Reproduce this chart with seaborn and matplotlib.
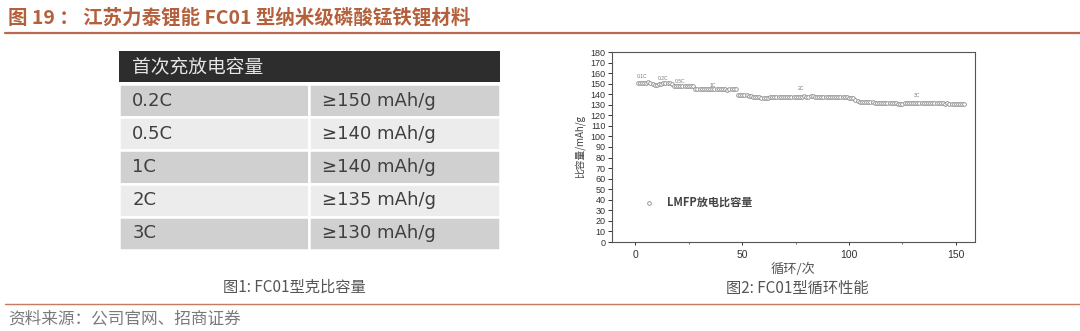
import numpy as np
import pandas as pd
import matplotlib
matplotlib.use("Agg")
import matplotlib.pyplot as plt
import seaborn as sns

# ---------------- data ----------------
title = "图 19 ： 江苏力泰锂能 FC01 型纳米级磷酸锰铁锂材料"
source = "资料来源：公司官网、招商证券"

table_header = "首次充放电容量"
table_rates = ["0.2C", "0.5C", "1C", "2C", "3C"]
table_caps = ["≥150 mAh/g", "≥140 mAh/g", "≥140 mAh/g", "≥135 mAh/g", "≥130 mAh/g"]
caption1 = "图1: FC01型克比容量"
caption2 = "图2: FC01型循环性能"

cap_01C = [150.3, 150.5, 150.7, 150.9, 151.1, 151.2, 151.0, 149.4]
cap_02C = [149.0, 149.2, 149.8, 150.0, 150.2, 150.3, 150.4, 150.3, 150.1]
cap_05C = [148.0, 147.7, 147.5, 147.4, 147.5, 147.7, 147.9, 148.1, 148.0, 147.8]
cap_1C = [145.1, 144.8, 144.6, 144.5, 144.5, 144.7, 144.9, 145.1, 145.3, 145.4,
          145.3, 145.0, 144.8, 144.6, 144.5, 144.4, 144.5, 144.6, 144.7, 144.6]
cap_2C = [139.4, 139.2, 139.1, 139.0, 138.9, 138.6, 138.2, 137.7,
          137.3, 137.0, 136.9, 136.8, 136.8, 136.7, 136.8, 136.9, 136.9, 137.0,
          137.0, 137.1, 137.1, 137.2, 137.3, 137.3, 137.4, 137.5, 137.5, 137.6,
          137.4, 137.6, 137.8, 137.9, 137.8, 137.7, 137.9, 138.0, 137.8, 137.7,
          137.6, 137.5, 137.5, 137.4, 137.4,
          137.3, 137.3, 137.2, 137.2, 137.1, 137.1, 137.0, 137.0, 136.9, 136.8,
          136.6, 136.2, 135.0, 133.5]
cap_3C = [132.8, 132.5, 132.3, 132.5, 132.8, 133.0, 132.6, 132.0, 131.7, 131.5,
          131.4, 131.3, 131.4, 131.5, 131.6, 131.5, 131.4, 131.3, 131.2, 131.1,
          131.2, 131.3, 131.4, 131.5, 131.6, 131.7, 131.6, 131.5, 131.6, 131.7,
          131.8, 131.7, 131.6, 131.5, 131.6, 131.7, 131.6, 131.5, 131.4, 131.3,
          131.2, 131.3, 131.2, 131.1, 131.0, 131.0, 130.9, 130.9, 130.8, 130.7]

rate_labels = ["0.1C", "0.2C", "0.5C", "1C", "2C", "3C"]
rate_label_x = [3, 12.7, 21, 36, 77.6, 131.6]
rate_label_y = [157, 154.7, 151.6, 148.7, 145, 138.7]

series_label = "LMFP放电比容量"
y_ticks = list(range(0, 181, 10))
x_ticks = [0, 50, 100, 150]

# ---------------- style ----------------
sns.set_theme(style="white")
plt.rcParams["font.family"] = ["Liberation Sans", "Noto Sans CJK SC", "DejaVu Sans"]
CJK = ["Noto Sans CJK SC", "DejaVu Sans"]

W, H = 1080, 331
fig = plt.figure(figsize=(W / 100, H / 100), dpi=100)
fig.patch.set_facecolor("white")

def fx(px):
    return px / W

def fy(py):
    return 1 - py / H

# title and rules
title_col = "#b4603c"
fig.text(fx(8), fy(18), title, family=CJK, fontsize=14, fontweight="bold",
         color=title_col, va="center", ha="left")
fig.add_artist(plt.Line2D([fx(5), fx(1080)], [fy(33), fy(33)], color="#b8694f", lw=1.6))
fig.add_artist(plt.Line2D([fx(5), fx(1080)], [fy(304), fy(304)], color="#c77a60", lw=1.0))
fig.text(fx(8), fy(319), source, family=CJK, fontsize=12, color="#7a7a7a",
         va="center", ha="left")

# ---------------- table (left) ----------------
tx0, tx1 = 119, 500
hdr_top, hdr_bot = 51, 82
row_bot = 250
tab_ax = fig.add_axes([fx(tx0), fy(row_bot), fx(tx1 - tx0), (row_bot - hdr_top) / H])
tab_ax.set_axis_off()
hdr_frac = (row_bot - hdr_bot) / (row_bot - hdr_top)

hdr = tab_ax.table(cellText=[[table_header]], cellColours=[["#2d2d2d"]],
                   cellLoc="left", bbox=[0, hdr_frac, 1, 1 - hdr_frac])
hdr.auto_set_font_size(False)
for (r, c), cell in hdr.get_celld().items():
    cell.set_edgecolor("white")
    cell.set_linewidth(0)
    cell.PAD = 0.035
    cell.get_text().set_color("#e6e6e6")
    cell.get_text().set_fontsize(13.5)
    cell.get_text().set_fontfamily(CJK)

row_cols = [["#d0d0d0", "#d0d0d0"] if i % 2 == 0 else ["#ececec", "#ececec"]
            for i in range(len(table_rates))]
body = tab_ax.table(cellText=[[a, b] for a, b in zip(table_rates, table_caps)],
                    cellColours=row_cols, cellLoc="left",
                    colWidths=[(309 - tx0) / (tx1 - tx0), (tx1 - 309) / (tx1 - tx0)],
                    bbox=[0, 0, 1, hdr_frac - 0.01])
body.auto_set_font_size(False)
for (r, c), cell in body.get_celld().items():
    cell.set_edgecolor("white")
    cell.set_linewidth(1.8)
    cell.PAD = 0.07
    cell.get_text().set_color("#3f3f3f")
    cell.get_text().set_fontsize(13)
    cell.get_text().set_fontfamily(["DejaVu Sans"])

fig.text(fx(294), fy(287), caption1, family=CJK, fontsize=11, color="#555555",
         ha="center", va="center")

# ---------------- scatter (right) ----------------
segments = [cap_01C, cap_02C, cap_05C, cap_1C, cap_2C, cap_3C]
caps = np.concatenate([np.array(s, dtype=float) for s in segments])
cycles = np.arange(1, len(caps) + 1)
df = pd.DataFrame({"cycle": cycles, "capacity": caps})

ax = fig.add_axes([fx(612), fy(242), fx(975 - 612), (242 - 52) / H])
sns.scatterplot(data=df, x="cycle", y="capacity", ax=ax, marker="o", s=7,
                facecolor="white", edgecolor="#8a8a8a", linewidth=0.6,
                label=series_label, legend=True)
for lab, lx, ly in zip(rate_labels, rate_label_x, rate_label_y):
    ax.text(lx, ly, lab, fontsize=3.6, color="#777777", ha="center", va="center")

ax.set_xlim(-11, 159)
ax.set_ylim(0, 180)
ax.set_yticks(y_ticks)
ax.set_xticks(x_ticks)
ax.set_xticks([25, 75, 125], minor=True)
ax.tick_params(axis="y", which="major", direction="out", length=3, width=0.7,
               labelsize=6.5, colors="#333333", pad=1.5, left=True)
ax.tick_params(axis="x", which="major", direction="out", length=2.5, width=0.7,
               labelsize=7.5, colors="#333333", pad=3, bottom=True)
ax.tick_params(axis="x", which="minor", direction="out", length=1.5, width=0.6,
               bottom=True, colors="#555555")
for sp in ax.spines.values():
    sp.set_color("#555555")
    sp.set_linewidth(0.8)
    sp.set_visible(True)
ax.set_ylabel("比容量/mAh/g", family=CJK, fontsize=7, color="#444444", labelpad=4)
ax.set_xlabel("循环/次", family=CJK, fontsize=9.5, color="#555555", labelpad=2)
leg = ax.legend(loc="center left", bbox_to_anchor=(0.045, 0.21), frameon=False,
                handletextpad=0.6, markerscale=1.0,
                prop={"family": CJK, "size": 8, "weight": "bold"})
for t in leg.get_texts():
    t.set_color("#444444")

fig.text(fx(797), fy(288), caption2, family=CJK, fontsize=11, color="#555555",
         ha="center", va="center")

fig.savefig("out.png", dpi=100, facecolor="white")
